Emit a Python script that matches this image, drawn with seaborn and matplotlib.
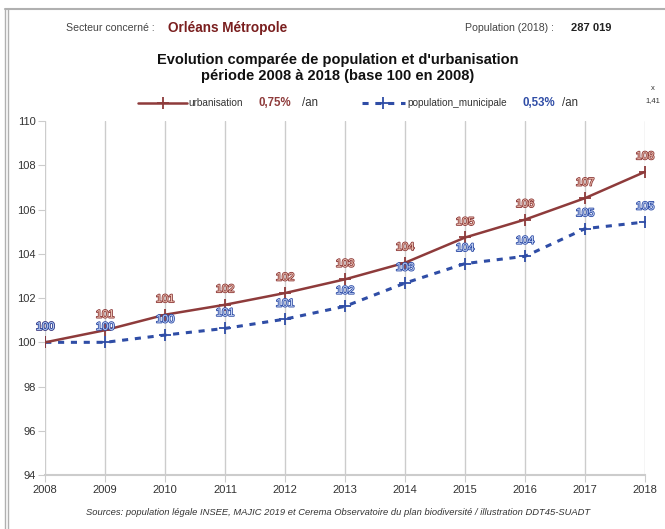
import matplotlib
matplotlib.use("Agg")
import matplotlib.pyplot as plt
import matplotlib.patheffects as pe
from matplotlib.lines import Line2D
import seaborn as sns
import pandas as pd

# data (base 100 in 2008)
years = [2008, 2009, 2010, 2011, 2012, 2013, 2014, 2015, 2016, 2017, 2018]
urbanisation = [100.0, 100.55, 101.25, 101.70, 102.23, 102.85, 103.60, 104.74, 105.55, 106.52, 107.71]
population = [100.0, 100.0, 100.33, 100.63, 101.05, 101.63, 102.68, 103.56, 103.89, 105.14, 105.44]
y_ticks = [94, 96, 98, 100, 102, 104, 106, 108, 110]

URB_COLOR = "#8e3b3b"
POP_COLOR = "#2f4da6"
GRID = "#cccccc"

sns.set_style("white")
plt.rcParams["font.family"] = ["Liberation Sans", "DejaVu Sans"]

df = pd.DataFrame({"annee": years, "urbanisation": urbanisation, "population_municipale": population})

fig = plt.figure(figsize=(6.65, 5.29), dpi=100)
ax = fig.add_axes([0.068, 0.102, 0.902, 0.669])

sns.lineplot(data=df, x="annee", y="urbanisation", ax=ax, color=URB_COLOR, linewidth=1.8,
             marker="+", markersize=8, markeredgewidth=1.3, markeredgecolor=URB_COLOR, zorder=4)
sns.lineplot(data=df, x="annee", y="population_municipale", ax=ax, color=POP_COLOR, linewidth=2.2,
             linestyle=(0, (2, 2.2)), marker="+", markersize=8, markeredgewidth=1.3,
             markeredgecolor=POP_COLOR, zorder=3)

# value labels with outlined look
for x, u, p in zip(years, urbanisation, population):
    ax.annotate(f"{u:.0f}", (x, u), xytext=(0, 9), textcoords="offset points", ha="center",
                fontsize=8, color="#eec3b2", zorder=6,
                path_effects=[pe.withStroke(linewidth=1.2, foreground=URB_COLOR)])
    ax.annotate(f"{p:.0f}", (x, p), xytext=(0, 9), textcoords="offset points", ha="center",
                fontsize=8, color="#c6d5f5", zorder=6,
                path_effects=[pe.withStroke(linewidth=1.2, foreground=POP_COLOR)])

ax.set_xlim(2008, 2018)
ax.set_ylim(94, 110)
ax.set_xticks(years)
ax.set_yticks(y_ticks)
ax.set_xlabel("")
ax.set_ylabel("")
ax.grid(axis="x", color=GRID, linewidth=1)
ax.grid(axis="y", visible=False)
for s in ["top", "right", "left"]:
    ax.spines[s].set_visible(False)
ax.spines["bottom"].set_color(GRID)
ax.spines["bottom"].set_linewidth(1.5)
ax.tick_params(axis="both", length=5, color=GRID, labelsize=8, labelcolor="#333333", pad=2)
ax.tick_params(axis="y", left=True)
ax.tick_params(axis="x", bottom=True)

# frame
fig.add_artist(Line2D([0.008, 1.0], [0.983, 0.983], color="#b0b0b0", lw=1.5))
fig.add_artist(Line2D([0.008, 0.008], [0.0, 0.983], color="#b0b0b0", lw=1.0))
fig.add_artist(Line2D([0.012, 0.012], [0.0, 0.983], color="#b0b0b0", lw=1.0))

# header
fig.text(0.100, 0.948, "Secteur concerné :", fontsize=7.6, color="#444444", va="center")
fig.text(0.252, 0.948, "Orléans Métropole", fontsize=9.8, color="#7a1f1f", fontweight="bold", va="center")
fig.text(0.699, 0.948, "Population (2018) :", fontsize=7.6, color="#444444", va="center")
fig.text(0.858, 0.948, "287 019", fontsize=8, color="#222222", fontweight="bold", va="center")

fig.text(0.508, 0.872, "Evolution comparée de population et d'urbanisation\npériode 2008 à 2018 (base 100 en 2008)",
         fontsize=10.5, fontweight="bold", ha="center", va="center", linespacing=1.2, color="#111111")

# legend row
ly = 0.806
fig.add_artist(Line2D([0.208, 0.281], [ly, ly], color=URB_COLOR, lw=1.8))
fig.add_artist(Line2D([0.2445], [ly], color=URB_COLOR, marker="+", markersize=8, markeredgewidth=1.3))
fig.text(0.283, ly, "urbanisation", fontsize=7.2, color="#333333", va="center")
fig.text(0.388, ly, "0,75%", fontsize=8.3, color="#8e3b3b", fontweight="bold", va="center")
fig.text(0.454, ly, "/an", fontsize=8.3, color="#333333", va="center")

fig.add_artist(Line2D([0.544, 0.609], [ly, ly], color=POP_COLOR, lw=2.2, linestyle=(0, (2, 2.2))))
fig.add_artist(Line2D([0.5765], [ly], color=POP_COLOR, marker="+", markersize=8, markeredgewidth=1.3))
fig.text(0.612, ly, "population_municipale", fontsize=7.2, color="#333333", va="center")
fig.text(0.786, ly, "0,53%", fontsize=8.3, color=POP_COLOR, fontweight="bold", va="center")
fig.text(0.845, ly, "/an", fontsize=8.3, color="#333333", va="center")

fig.text(0.982, 0.832, "x", fontsize=5.5, color="#333333", ha="center", va="center")
fig.text(0.982, 0.809, "1,41", fontsize=5.5, color="#333333", ha="center", va="center")

fig.text(0.508, 0.032, "Sources: population légale INSEE, MAJIC 2019 et Cerema Observatoire du plan biodiversité / illustration DDT45-SUADT",
         fontsize=6.75, style="italic", ha="center", va="center", color="#333333")

fig.savefig("out.png", dpi=100)
